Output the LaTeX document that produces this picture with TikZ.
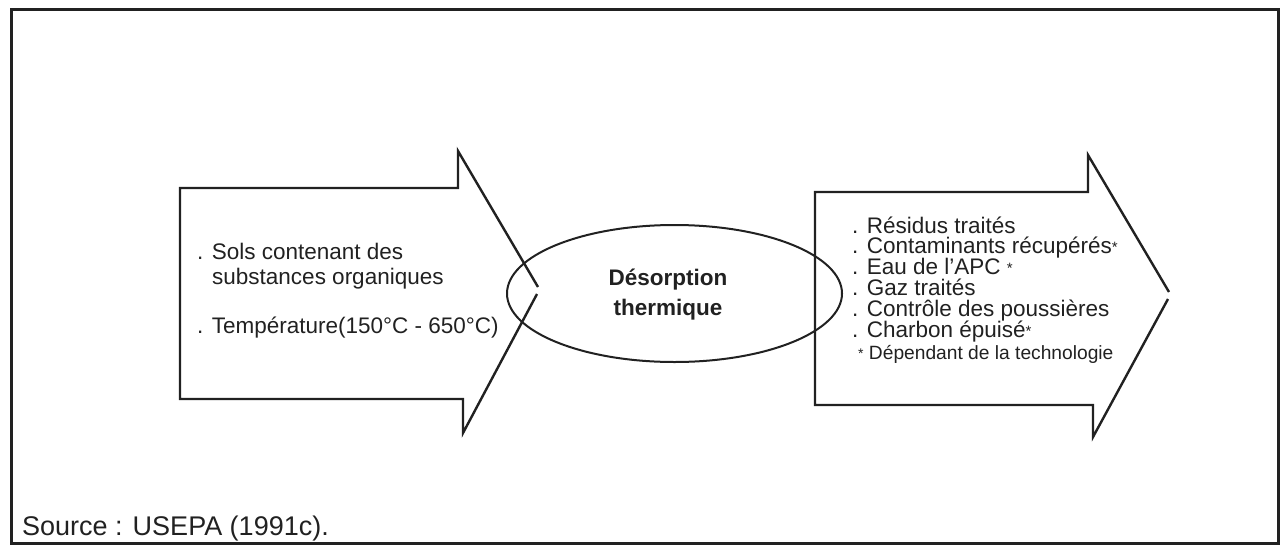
\documentclass[tikz,border=0pt]{standalone}
\usepackage{fontspec}
\setmainfont{Liberation Sans}
\usetikzlibrary{shapes.geometric}
\definecolor{ink}{gray}{0.13}
\newcommand{\myast}{{\fontsize{15}{15}\selectfont\raisebox{1pt}{*}}}
\begin{document}
\begin{tikzpicture}[x=1pt,y=-1pt,
  shapeline/.style={draw=ink,line width=2.4pt,line join=miter},
  txt/.style={anchor=base west,inner sep=0pt,text=ink,font=\fontsize{22.5}{21}\selectfont},
  small/.style={anchor=base west,inner sep=0pt,text=ink,font=\fontsize{19.2}{19}\selectfont},
  ctr/.style={anchor=base,inner sep=0pt,text=ink,font=\fontsize{22.5}{21}\selectfont\bfseries}]
\useasboundingbox (0,0) rectangle (1281,546);
% outer frame
\draw[draw=ink,line width=3pt] (11,9) rectangle (1278,543);
% left arrow
\draw[shapeline] (537,294) -- (463,433) -- (463,399) -- (180,399) -- (180,188) -- (458,188) -- (458,151) -- (538,287);
% right arrow
\draw[shapeline] (1168,299) -- (1093,437) -- (1093,405) -- (815,405) -- (815,192) -- (1088,192) -- (1088,155) -- (1169,292);
% ellipse
\node[draw=ink,line width=2pt,ellipse,minimum width=335pt,minimum height=137pt,inner sep=0pt] (proc) at (674.5,293.5) {};
\node[ctr] (t1) at (668,285) {Désorption};
\node[ctr] (t2) at (668,315) {thermique};
% left text
\node[txt] (l1) at (197,259) {. Sols contenant des};
\node[txt] (l2) at (212,284) {substances organiques};
\node[txt] (l3) at (197,333) {. Température(150°C - 650°C)};
% right text
\node[txt] (r1) at (852,233) {. Résidus traités};
\node[txt] (r2) at (852,253) {. Contaminants récupérés\myast};
\node[txt] (r3) at (852,274) {. Eau de l{\char"0027}APC \myast};
\node[txt] (r4) at (852,295) {. Gaz traités};
\node[txt] (r5) at (852,316) {. Contrôle des poussières};
\node[txt] (r6) at (852,337) {. Charbon épuisé\myast};
\node[small] (r7) at (858,359) {\raisebox{1pt}{\fontsize{14}{14}\selectfont*} Dépendant de la technologie};
% source
\node[anchor=base west,inner sep=0pt,text=ink,font=\fontsize{27}{26}\selectfont] (src) at (22,535) {Source : USEPA (1991c).};
\end{tikzpicture}
\end{document}
